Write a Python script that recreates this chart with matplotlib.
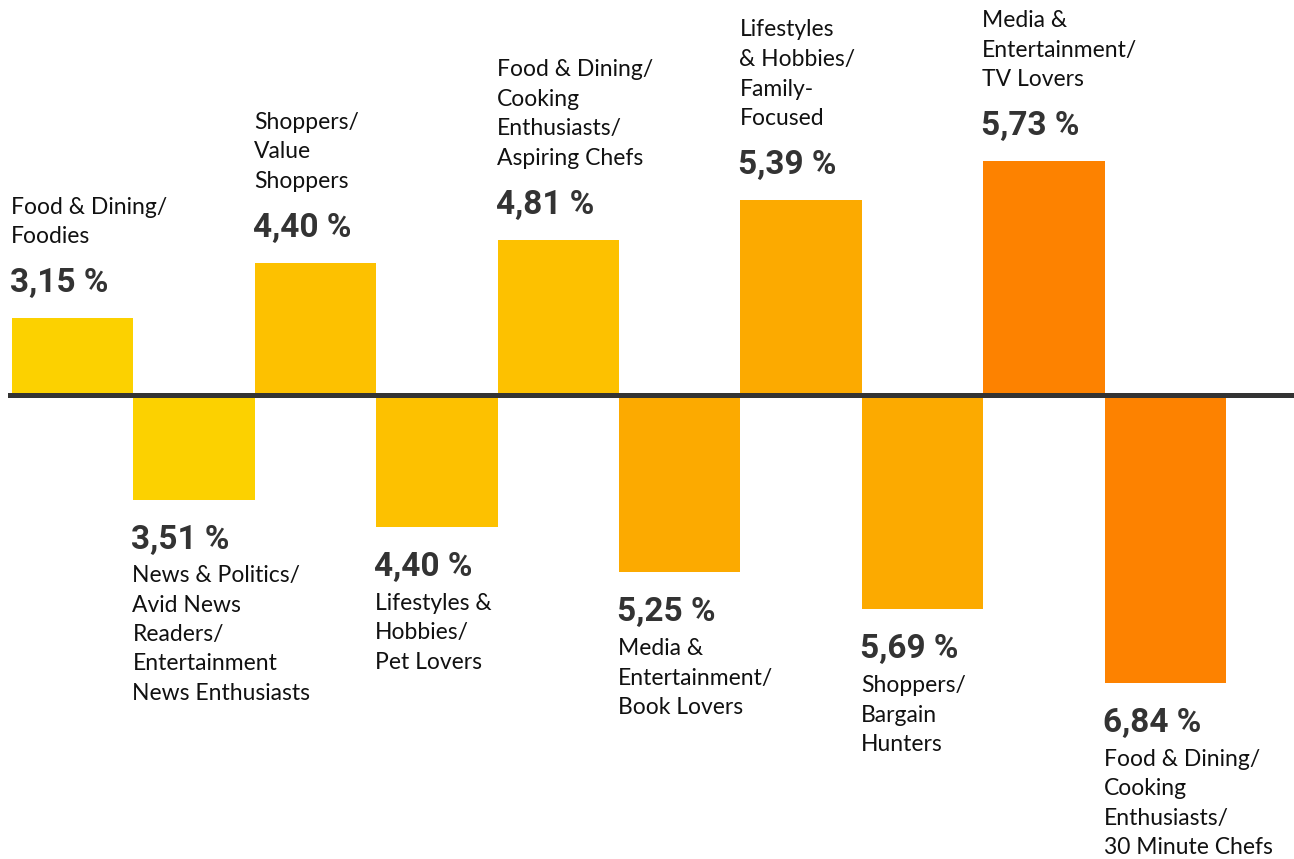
import matplotlib.pyplot as plt

# segments, left to right; odd positions go up, even positions hang down
segments = [
    "Food & Dining/\nFoodies",
    "News & Politics/\nAvid News\nReaders/\nEntertainment\nNews Enthusiasts",
    "Shoppers/\nValue\nShoppers",
    "Lifestyles &\nHobbies/\nPet Lovers",
    "Food & Dining/\nCooking\nEnthusiasts/\nAspiring Chefs",
    "Media &\nEntertainment/\nBook Lovers",
    "Lifestyles\n& Hobbies/\nFamily-\nFocused",
    "Shoppers/\nBargain\nHunters",
    "Media &\nEntertainment/\nTV Lovers",
    "Food & Dining/\nCooking\nEnthusiasts/\n30 Minute Chefs",
]
shares = [3.15, 3.51, 4.40, 4.40, 4.81, 5.25, 5.39, 5.69, 5.73, 6.84]
# bar lengths as drawn in the original (not proportional to the shares)
bar_len = [77, 105, 132, 132, 155, 177, 195, 214, 234, 288]
directions = [1, -1, 1, -1, 1, -1, 1, -1, 1, -1]
colors = ['#FCD100', '#FCD100', '#FDC100', '#FDC100', '#FDC100',
          '#FCAA00', '#FCAA00', '#FCAA00', '#FD8200', '#FD8200']

LINE_PX = 29

fig = plt.figure(figsize=(12.94, 8.59), dpi=100)
ax = fig.add_axes([0, 0, 1, 1])

xs = list(range(len(shares)))
heights = [d * h for d, h in zip(directions, bar_len)]
ax.bar(xs, heights, width=1.0, align='edge', color=colors, linewidth=0, zorder=2)

bar_px = 121.4
ax.set_xlim(-12 / bar_px, (1294 - 12) / bar_px)
ax.set_ylim(-(859 - 395), 395)
ax.axhline(0, xmin=10 / 1294, xmax=1, color='#333333', linewidth=3.6, zorder=3)

for x, h, d, v, lab in zip(xs, bar_len, directions, shares, segments):
    val = f"{v:.2f}".replace('.', ',') + " %"
    n = lab.count('\n') + 1
    # multi-line text with va='baseline' sits on its last line
    if d > 0:
        val_off = 26
        lab_off = 75
    else:
        val_off = -49
        lab_off = -84 - LINE_PX * (n - 1)
    ax.annotate(val, (x, d * h), xytext=(-2, val_off), textcoords='offset pixels',
                ha='left', va='baseline', fontsize=24, fontweight='bold',
                family='Roboto', color='#333333')
    ax.annotate(lab, (x, d * h), xytext=(-1, lab_off), textcoords='offset pixels',
                ha='left', va='baseline', fontsize=16.5, family='Lato',
                color='#111111', linespacing=1.5)

ax.axis('off')
fig.savefig('out.png', dpi=100)
plt.close(fig)
